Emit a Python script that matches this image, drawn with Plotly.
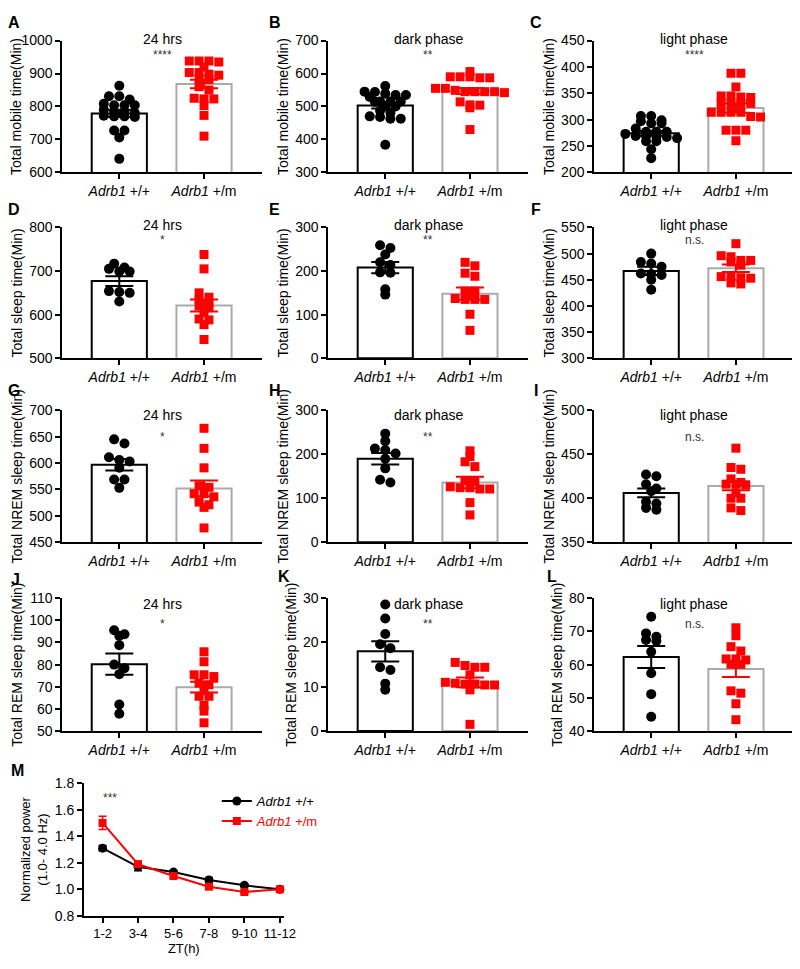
import numpy as np
import plotly.graph_objects as go

W, H = 800, 969
FONT = "Liberation Sans, Arial, Helvetica, sans-serif"
RED = "#ff0000"
GREY = "#aaaaaa"

group_ticks = ["<i>Adrb1</i> +/+", "<i>Adrb1</i> +/m"]

# ---------------- data ----------------
# A  total mobile time, 24 hrs
mobile_24h_wt = [863, 831, 831, 821, 808, 804, 804, 804, 790, 785, 785, 780, 772, 770, 768, 770, 727, 727, 706, 641]
mobile_24h_mut = [938, 935, 938, 938, 920, 903, 898, 903, 895, 885, 882, 860, 850, 823, 825, 823, 803, 773, 710]
mobile_24h_mean = [779, 868]
mobile_24h_sem = [11, 13]
# B  total mobile time, dark phase
mobile_dark_wt = [562, 545, 544, 539, 535, 535, 529, 515, 515, 514, 515, 500, 500, 487, 480, 470, 468, 463, 463, 384]
mobile_dark_mut = [606, 590, 587, 587, 590, 590, 555, 545, 545, 542, 545, 545, 549, 555, 514, 504, 496, 505, 430]
mobile_dark_mean = [503, 547]
mobile_dark_sem = [9, 9]
# C  total mobile time, light phase
mobile_light_wt = [307, 307, 297, 299, 293, 293, 283, 277, 277, 277, 273, 268, 267, 269, 265, 269, 259, 259, 244, 227]
mobile_light_mut = [388, 388, 362, 345, 342, 343, 345, 331, 331, 331, 331, 314, 314, 314, 314, 305, 306, 280, 280, 280, 260]
mobile_light_mean = [274, 322]
mobile_light_sem = [4.5, 9]
# D  total sleep time, 24 hrs
sleep_24h_wt = [717, 708, 705, 699, 699, 654, 652, 650, 630]
sleep_24h_mut = [738, 705, 650, 640, 633, 625, 620, 616, 605, 590, 588, 577, 543]
sleep_24h_mean = [677, 621]
sleep_24h_sem = [11, 14]
# E  total sleep time, dark phase
sleep_dark_wt = [259, 253, 238, 220, 214, 197, 196, 158, 146]
sleep_dark_mut = [220, 212, 195, 188, 154, 154, 137, 135, 135, 135, 101, 64]
sleep_dark_mean = [208, 148]
sleep_dark_sem = [13, 14]
# F  total sleep time, light phase
sleep_light_wt = [500, 484, 481, 475, 462, 461, 459, 450, 431]
sleep_light_mut = [519, 496, 494, 487, 487, 484, 478, 456, 456, 454, 453, 444, 442]
sleep_light_mean = [467, 472]
sleep_light_sem = [8, 7]
# G  total NREM sleep time, 24 hrs
nrem_24h_wt = [645, 637, 611, 606, 603, 591, 569, 569, 553]
nrem_24h_mut = [666, 628, 591, 557, 554, 542, 542, 536, 526, 521, 516, 477]
nrem_24h_mean = [597, 552]
nrem_24h_sem = [11, 15]
# H  total NREM sleep time, dark phase
nrem_dark_wt = [247, 230, 213, 210, 202, 190, 168, 142, 136]
nrem_dark_mut = [208, 195, 183, 172, 140, 138, 126, 121, 121, 124, 124, 90, 62]
nrem_dark_mean = [190, 136]
nrem_dark_sem = [13, 13]
# I  total NREM sleep time, light phase
nrem_light_wt = [427, 425, 416, 411, 408, 396, 394, 389, 387]
nrem_light_mut = [457, 435, 433, 422, 418, 416, 416, 415, 406, 400, 400, 389, 386]
nrem_light_mean = [406, 414]
nrem_light_sem = [5, 5]
# J  total REM sleep time, 24 hrs
rem_24h_wt = [95.5, 93.7, 93.0, 88.8, 80.0, 78.4, 75.7, 62.0, 57.8]
rem_24h_mut = [85.8, 81.3, 75.4, 75.4, 74.6, 71.6, 70.9, 68.2, 65.7, 65.7, 61.6, 59.0, 53.7]
rem_24h_mean = [80.2, 69.8]
rem_24h_sem = [4.8, 2.4]
# K  total REM sleep time, dark phase
rem_dark_wt = [28.6, 25.4, 21.9, 19.6, 18.7, 14.4, 13.8, 10.7, 9.3]
rem_dark_mut = [15.5, 14.8, 14.4, 14.4, 12.7, 11.0, 10.8, 10.6, 10.6, 10.4, 10.4, 9.3, 1.5]
rem_dark_mean = [18.0, 11.0]
rem_dark_sem = [2.3, 1.1]
# L  total REM sleep time, light phase
rem_light_wt = [74.4, 69.4, 68.4, 67.4, 67.1, 63.9, 57.4, 51.1, 44.3]
rem_light_mut = [71.1, 68.7, 65.4, 64.1, 61.7, 61.4, 61.7, 60.1, 60.1, 52.1, 51.4, 48.2, 43.4]
rem_light_mean = [62.3, 58.7]
rem_light_sem = [3.3, 2.4]
# M  normalized delta power
zt_labels = ["1-2", "3-4", "5-6", "7-8", "9-10", "11-12"]
power_wt = [1.31, 1.17, 1.13, 1.07, 1.03, 1.00]
power_wt_sem = [0.02, 0.03, 0.012, 0.02, 0.01, 0.005]
power_mut = [1.50, 1.19, 1.10, 1.02, 0.98, 1.00]
power_mut_sem = [0.05, 0.02, 0.012, 0.012, 0.012, 0.005]

# ---------------- panel descriptions ----------------
panels = [
    dict(L="A", wt=mobile_24h_wt, mut=mobile_24h_mut, mean=mobile_24h_mean, sem=mobile_24h_sem,
         title="24 hrs", sig="****", yt="Total mobile time(Min)", yr=(600, 1000), dt=100, c=0, r=0),
    dict(L="B", wt=mobile_dark_wt, mut=mobile_dark_mut, mean=mobile_dark_mean, sem=mobile_dark_sem,
         title="dark phase", sig="**", yt="Total mobile time(Min)", yr=(300, 700), dt=100, c=1, r=0),
    dict(L="C", wt=mobile_light_wt, mut=mobile_light_mut, mean=mobile_light_mean, sem=mobile_light_sem,
         title="light phase", sig="****", yt="Total mobile time(Min)", yr=(200, 450), dt=50, c=2, r=0),
    dict(L="D", wt=sleep_24h_wt, mut=sleep_24h_mut, mean=sleep_24h_mean, sem=sleep_24h_sem,
         title="24 hrs", sig="*", yt="Total sleep time(Min)", yr=(500, 800), dt=100, c=0, r=1),
    dict(L="E", wt=sleep_dark_wt, mut=sleep_dark_mut, mean=sleep_dark_mean, sem=sleep_dark_sem,
         title="dark phase", sig="**", yt="Total sleep time(Min)", yr=(0, 300), dt=100, c=1, r=1),
    dict(L="F", wt=sleep_light_wt, mut=sleep_light_mut, mean=sleep_light_mean, sem=sleep_light_sem,
         title="light phase", sig="n.s.", yt="Total sleep time(Min)", yr=(300, 550), dt=50, c=2, r=1),
    dict(L="G", wt=nrem_24h_wt, mut=nrem_24h_mut, mean=nrem_24h_mean, sem=nrem_24h_sem,
         title="24 hrs", sig="*", yt="Total NREM sleep time(Min)", yr=(450, 700), dt=50, c=0, r=2),
    dict(L="H", wt=nrem_dark_wt, mut=nrem_dark_mut, mean=nrem_dark_mean, sem=nrem_dark_sem,
         title="dark phase", sig="**", yt="Total NREM sleep time(Min)", yr=(0, 300), dt=100, c=1, r=2),
    dict(L="I", wt=nrem_light_wt, mut=nrem_light_mut, mean=nrem_light_mean, sem=nrem_light_sem,
         title="light phase", sig="n.s.", yt="Total NREM sleep time(Min)", yr=(350, 500), dt=50, c=2, r=2),
    dict(L="J", wt=rem_24h_wt, mut=rem_24h_mut, mean=rem_24h_mean, sem=rem_24h_sem,
         title="24 hrs", sig="*", yt="Total REM sleep time(Min)", yr=(50, 110), dt=10, c=0, r=3),
    dict(L="K", wt=rem_dark_wt, mut=rem_dark_mut, mean=rem_dark_mean, sem=rem_dark_sem,
         title="dark phase", sig="**", yt="Total REM sleep time(Min)", yr=(0, 30), dt=10, c=1, r=3),
    dict(L="L", wt=rem_light_wt, mut=rem_light_mut, mean=rem_light_mean, sem=rem_light_sem,
         title="light phase", sig="n.s.", yt="Total REM sleep time(Min)", yr=(40, 80), dt=10, c=2, r=3),
]

# ---------------- geometry (pixels) ----------------
COL_X = [55, 325, 595]
AX_LEN = 203
CAT_PX = 86.0
FIRST_CAT = 58.0
ROWS = [(25, 159), (215, 348), (401, 535), (592, 727)]
TITLE_Y = [23, 213, 406, 598]
SIG_Y = [40, 228, 428, 618]
LETTER_POS = {"A": (6, 7), "B": (271, 7), "C": (536, 7), "D": (6, 197), "E": (271, 197), "F": (536, 197),
              "G": (6, 381), "H": (271, 381), "I": (536, 381), "J": (8, 573), "K": (280, 570), "L": (552, 570),
              "M": (10, 767)}


def row_scatter(vals, px_per_unit, dx=10.0, dy=5.0):
    """Prism-like column scatter: values within dy pixels of a row's first value share a row
    and are spread symmetrically dx pixels apart. Returns offsets in category units."""
    vals = np.asarray(vals, float)
    order = list(np.argsort(-vals, kind="stable"))
    offs = np.zeros(len(vals))
    rows, cur = [], []
    for i in order:
        if cur and (vals[cur[0]] - vals[i]) * px_per_unit > dy:
            rows.append(cur)
            cur = []
        cur.append(i)
    if cur:
        rows.append(cur)
    for r in rows:
        k = len(r)
        for j, i in enumerate(r):
            offs[i] = (j - (k - 1) / 2.0) * dx / CAT_PX
    return offs


fig = go.Figure()
layout = dict(width=W, height=H, margin=dict(l=0, r=0, t=0, b=0),
              paper_bgcolor="white", plot_bgcolor="white",
              font=dict(family=FONT, size=14, color="black"),
              barmode="overlay", showlegend=True)
annotations = []

for i, p in enumerate(panels):
    n = i + 1
    xa = "x" if n == 1 else f"x{n}"
    ya = "y" if n == 1 else f"y{n}"
    axpx = COL_X[p["c"]]
    top, bot = ROWS[p["r"]]
    ymin, ymax = p["yr"]
    ppu = (bot - top) / (ymax - ymin)

    fig.add_trace(go.Bar(x=[0, 1], y=p["mean"], width=56 / CAT_PX,
                         marker=dict(color="white", line=dict(color=["black", GREY], width=2)),
                         xaxis=xa, yaxis=ya, showlegend=False, hoverinfo="skip"))
    ow = row_scatter(p["wt"], ppu, 10.5, 5.0)
    om = row_scatter(p["mut"], ppu, 10.0, 5.0)
    fig.add_trace(go.Scatter(x=0 + ow, y=p["wt"], mode="markers",
                             marker=dict(symbol="circle", size=10, color="black"),
                             xaxis=xa, yaxis=ya, showlegend=False, cliponaxis=False))
    fig.add_trace(go.Scatter(x=1 + om, y=p["mut"], mode="markers",
                             marker=dict(symbol="square", size=9, color=RED),
                             xaxis=xa, yaxis=ya, showlegend=False, cliponaxis=False))
    for gi, col in ((0, "black"), (1, RED)):
        fig.add_trace(go.Scatter(x=[gi], y=[p["mean"][gi]], mode="markers",
                                 marker=dict(size=1, color=col, opacity=0),
                                 error_y=dict(type="data", array=[p["sem"][gi]], color=col,
                                              thickness=2, width=14),
                                 xaxis=xa, yaxis=ya, showlegend=False, cliponaxis=False))

    tickvals = list(np.arange(ymin, ymax + p["dt"] * 0.5, p["dt"]))
    layout["xaxis" if n == 1 else f"xaxis{n}"] = dict(
        domain=[axpx / W, (axpx + AX_LEN) / W], anchor=ya,
        range=[-FIRST_CAT / CAT_PX, (AX_LEN - FIRST_CAT) / CAT_PX],
        tickmode="array", tickvals=[0, 1], ticktext=group_ticks,
        showline=True, linecolor="black", linewidth=1.6, ticks="outside", ticklen=5, tickwidth=1.5,
        tickcolor="black", tickfont=dict(size=14), showgrid=False, zeroline=False, fixedrange=True)
    layout["yaxis" if n == 1 else f"yaxis{n}"] = dict(
        domain=[1 - bot / H, 1 - top / H], anchor=xa, range=[ymin, ymax],
        tickmode="array", tickvals=tickvals,
        showline=True, linecolor="black", linewidth=1.6, ticks="outside", ticklen=5, tickwidth=1.5,
        tickcolor="black", tickfont=dict(size=14), showgrid=False, zeroline=False, fixedrange=True,
        title=dict(text=p["yt"], font=dict(size=14), standoff=3))

    cx = (axpx + AX_LEN / 2) / W
    annotations.append(dict(x=cx, y=1 - TITLE_Y[p["r"]] / H, xref="paper", yref="paper", text=p["title"],
                            showarrow=False, font=dict(size=14), xanchor="center", yanchor="middle"))
    annotations.append(dict(x=cx, y=1 - SIG_Y[p["r"]] / H,
                            xref="paper", yref="paper", text=p["sig"], showarrow=False,
                            font=dict(size=12, color="#333333"), xanchor="center", yanchor="middle"))

# ---------------- panel M ----------------
n = len(panels) + 1
xa, ya = f"x{n}", f"y{n}"
M_AX, M_TOP, M_BOT = 77, 780, 915
M_FIRST, M_STEP, M_END = 96, 36, 280
xcat = list(range(len(zt_labels)))
fig.add_trace(go.Scatter(x=xcat, y=power_wt, mode="lines+markers", name="<i>Adrb1</i> +/+",
                         line=dict(color="black", width=2), marker=dict(symbol="circle", size=9, color="black"),
                         error_y=dict(type="data", array=power_wt_sem, color="black", thickness=1.5, width=4),
                         xaxis=xa, yaxis=ya, cliponaxis=False))
fig.add_trace(go.Scatter(x=xcat, y=power_mut, mode="lines+markers",
                         name='<span style="color:#ff0000"><i>Adrb1</i> +/m</span>',
                         line=dict(color=RED, width=2), marker=dict(symbol="square", size=8, color=RED),
                         error_y=dict(type="data", array=power_mut_sem, color=RED, thickness=1.5, width=4),
                         xaxis=xa, yaxis=ya, cliponaxis=False))
layout[f"xaxis{n}"] = dict(
    domain=[M_AX / W, M_END / W], anchor=ya,
    range=[-(M_FIRST - M_AX) / M_STEP, (M_END - M_FIRST) / M_STEP],
    tickmode="array", tickvals=xcat, ticktext=zt_labels,
    showline=True, linecolor="black", linewidth=1.6, ticks="outside", ticklen=5, tickwidth=1.5,
    tickcolor="black", tickfont=dict(size=13), showgrid=False, zeroline=False, fixedrange=True,
    title=dict(text="ZT(h)", font=dict(size=13), standoff=2))
layout[f"yaxis{n}"] = dict(
    domain=[1 - M_BOT / H, 1 - M_TOP / H], anchor=xa, range=[0.8, 1.8],
    tickmode="array", tickvals=[0.8, 1.0, 1.2, 1.4, 1.6, 1.8], ticktext=["0.8", "1.0", "1.2", "1.4", "1.6", "1.8"],
    showline=True, linecolor="black", linewidth=1.6, ticks="outside", ticklen=5, tickwidth=1.5,
    tickcolor="black", tickfont=dict(size=14), showgrid=False, zeroline=False, fixedrange=True,
    title=dict(text="Normalized power<br>(1.0- 4.0 Hz)", font=dict(size=13), standoff=4))
annotations.append(dict(x=(M_FIRST + 8) / W, y=1 - 795 / H, xref="paper", yref="paper", text="***",
                        showarrow=False, font=dict(size=12, color="#333333"), xanchor="center", yanchor="middle"))
layout["legend"] = dict(x=212 / W, y=1 - 783 / H, xanchor="left", yanchor="top", bgcolor="rgba(0,0,0,0)",
                        font=dict(size=13), itemwidth=30, tracegroupgap=0)

for letter, (lx, ly) in LETTER_POS.items():
    annotations.append(dict(x=lx / W, y=1 - ly / H, xref="paper", yref="paper", text=f"<b>{letter}</b>",
                            showarrow=False, font=dict(size=16), xanchor="center", yanchor="middle"))

layout["annotations"] = annotations
fig.update_layout(**layout)
fig.write_html("out.html")
